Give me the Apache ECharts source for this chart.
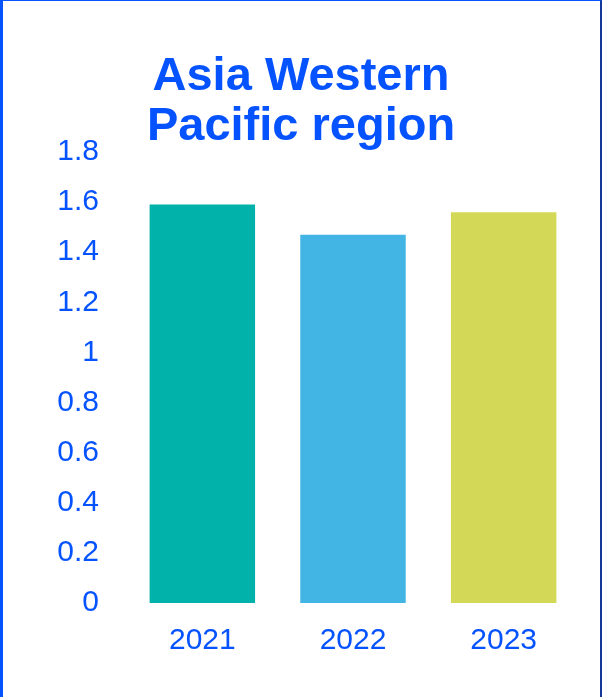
<!DOCTYPE html>
<html>
<head>
<meta charset="utf-8">
<script src="https://cdn.jsdelivr.net/npm/echarts@6/dist/echarts.min.js"></script>
<style>
    html, body { margin: 0; padding: 0; background: #fff; }
    #main { width: 602px; height: 697px; }
    #frame {
        position: absolute; left: 0; top: 0; width: 602px; height: 697px;
        box-sizing: border-box; pointer-events: none;
        border-left: 3px solid #0552ff;
        border-top: 1px solid #0552ff;
        border-right: 2px solid #13389a;
    }
</style>
</head>
<body>
<div id="main"></div>
<div id="frame"></div>
<script>
// 数据
var years = ['2021', '2022', '2023'];
var values = [1.59, 1.47, 1.56];
var barColors = ['#00b2a9', '#43b5e5', '#d3d956'];

var textBlue = '#0552ff';
var font = '"Liberation Sans", Arial, sans-serif';

var chart = echarts.init(document.getElementById('main'));

var barData = [];
for (var i = 0; i < values.length; i++) {
    barData.push({value: values[i], itemStyle: {color: barColors[i]}});
}

var option = {
    animation: false,
    title: {
        text: 'Asia Western\nPacific region',
        left: 296,
        textAlign: 'center',
        top: 47,
        textStyle: {
            color: textBlue,
            fontFamily: font,
            fontWeight: 'bold',
            fontSize: 47,
            lineHeight: 50
        }
    },
    grid: {
        left: 127,
        right: 23,
        top: 152,
        bottom: 94
    },
    xAxis: {
        type: 'category',
        data: years,
        axisLine: {show: false},
        axisTick: {show: false},
        axisLabel: {
            color: textBlue,
            fontFamily: font,
            fontSize: 30,
            margin: 23
        }
    },
    yAxis: {
        type: 'value',
        min: 0,
        max: 1.8,
        interval: 0.2,
        splitLine: {show: false},
        axisLine: {show: false},
        axisTick: {show: false},
        axisLabel: {
            color: textBlue,
            fontFamily: font,
            fontSize: 30,
            margin: 28,
            formatter: function (v) {
                return String(Math.round(v * 10) / 10);
            }
        }
    },
    series: [{
        type: 'bar',
        data: barData,
        barWidth: '70%'
    }]
};
chart.setOption(option, true);
</script>
</body>
</html>
